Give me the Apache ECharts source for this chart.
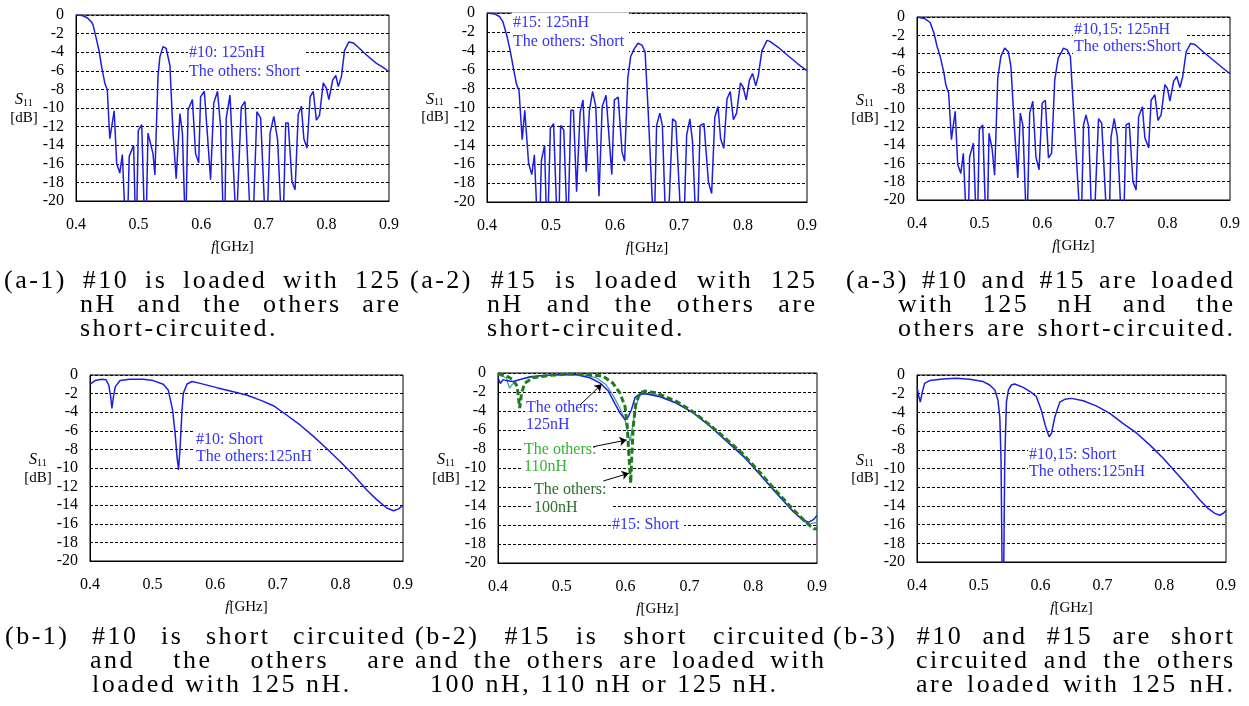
<!DOCTYPE html>
<html>
<head>
<meta charset="utf-8">
<script src="https://cdn.jsdelivr.net/npm/echarts@6/dist/echarts.min.js"></script>
<style>
html, body { margin: 0; padding: 0; background: #fff; }
#chart { width: 1249px; height: 706px; }
</style>
</head>
<body>
<div id="chart"></div>
<script>
// ---- data (f in GHz, S11 in dB) ----
// values below -20 dB run off the bottom of the axis and get clipped
var a1Freq = [0.400,0.410,0.418,0.424,0.427,0.433,0.437,0.441,0.446,0.450,0.454,0.461,0.465,0.470,0.474,0.481,0.485,0.492,0.496,0.4995,0.505,0.511,0.515,0.523,0.526,0.531,0.534,0.539,0.544,0.550,0.555,0.560,0.566,0.570,0.575,0.579,0.586,0.591,0.596,0.599,0.605,0.615,0.620,0.626,0.631,0.637,0.640,0.646,0.656,0.664,0.670,0.681,0.689,0.695,0.704,0.710,0.716,0.722,0.730,0.735,0.739,0.745,0.750,0.755,0.760,0.764,0.769,0.774,0.779,0.784,0.789,0.795,0.800,0.804,0.810,0.815,0.819,0.824,0.829,0.836,0.843,0.853,0.864,0.880,0.890,0.900];
var a1S11 = [0,-0.05,-0.3,-0.7,-1.0,-2.7,-3.9,-5.6,-7.3,-8.1,-13.3,-10.3,-16.0,-17.0,-15.0,-26,-15.2,-14.0,-25,-12.4,-11.8,-26,-12.7,-14.9,-17.2,-6.6,-4.5,-3.4,-3.6,-5.4,-12.7,-17.6,-10.6,-12.7,-24,-10.2,-9.1,-14.9,-15.9,-8.8,-8.2,-17.7,-9.5,-8.2,-12.0,-26,-11.1,-8.6,-23,-9.9,-9.3,-26,-10.4,-11.1,-25,-12.7,-10.9,-13.4,-25,-11.6,-11.6,-17.9,-18.8,-10.7,-9.8,-13.3,-14.3,-8.8,-8.2,-11.3,-10.8,-7.3,-7.9,-9.1,-7.0,-6.5,-7.7,-6.6,-3.8,-2.9,-3.0,-3.6,-4.3,-5.2,-5.6,-6.1];

var a2Freq = [0.400,0.412,0.420,0.425,0.431,0.436,0.442,0.446,0.450,0.455,0.459,0.465,0.470,0.474,0.481,0.485,0.490,0.494,0.499,0.504,0.5115,0.515,0.520,0.526,0.531,0.535,0.540,0.5455,0.550,0.555,0.560,0.565,0.570,0.575,0.580,0.586,0.595,0.599,0.605,0.611,0.615,0.620,0.6245,0.630,0.636,0.642,0.647,0.652,0.661,0.665,0.670,0.674,0.681,0.690,0.695,0.706,0.712,0.717,0.721,0.728,0.733,0.739,0.746,0.751,0.756,0.761,0.765,0.770,0.775,0.780,0.785,0.790,0.796,0.800,0.805,0.810,0.815,0.820,0.824,0.8295,0.8375,0.842,0.8545,0.870,0.886,0.900];
var a2S11 = [0,-0.1,-0.4,-0.95,-2.4,-3.9,-6.1,-7.5,-8.2,-13.4,-10.3,-15.9,-17.1,-15.0,-26,-15.6,-14.0,-25,-12.2,-11.7,-26,-11.9,-12.4,-24,-10.3,-10.3,-18.9,-10.5,-9.2,-16.8,-10.3,-8.3,-9.9,-19.4,-9.9,-8.7,-17.1,-9.2,-8.9,-14.7,-15.7,-6.9,-4.6,-3.8,-3.2,-3.4,-4.1,-10.6,-24,-11.9,-10.6,-11.9,-26,-11.2,-11.5,-26,-12.9,-11.2,-13.5,-25,-11.9,-11.7,-17.9,-19.1,-11.0,-9.9,-13.3,-14.3,-9.1,-8.3,-11.3,-10.6,-7.4,-7.8,-9.2,-7.1,-6.4,-7.7,-6.6,-4.0,-2.9,-3.0,-3.6,-4.5,-5.4,-6.1];

var a3Freq = [0.400,0.413,0.421,0.427,0.432,0.437,0.443,0.446,0.4505,0.455,0.461,0.465,0.470,0.474,0.481,0.484,0.490,0.496,0.4995,0.505,0.5115,0.515,0.520,0.524,0.529,0.534,0.540,0.546,0.550,0.556,0.561,0.565,0.569,0.5755,0.580,0.585,0.590,0.595,0.600,0.605,0.610,0.615,0.620,0.6255,0.634,0.640,0.645,0.650,0.662,0.666,0.670,0.674,0.681,0.690,0.695,0.706,0.710,0.715,0.720,0.729,0.734,0.739,0.745,0.750,0.754,0.760,0.764,0.770,0.774,0.780,0.785,0.790,0.796,0.800,0.804,0.810,0.815,0.820,0.8245,0.830,0.837,0.844,0.857,0.873,0.889,0.900];
var a3S11 = [0,-0.2,-0.6,-1.75,-3.2,-4.3,-6.1,-7.4,-8.3,-13.4,-10.3,-16.1,-17.1,-14.9,-26,-15.3,-13.8,-25,-12.3,-11.8,-26,-12.7,-14.4,-17.3,-6.7,-4.3,-3.4,-3.8,-5.4,-12.5,-17.6,-10.5,-11.8,-24,-10.5,-9.2,-15.3,-16.7,-9.4,-9.1,-15.4,-14.9,-6.9,-4.5,-3.4,-3.6,-4.3,-10.1,-24,-11.8,-10.7,-11.9,-26,-11.1,-11.6,-26,-13.1,-11.1,-13.1,-26,-11.8,-11.6,-18.0,-18.9,-10.9,-9.8,-13.2,-14.3,-9.1,-8.5,-11.3,-10.7,-7.4,-7.8,-9.2,-7.0,-6.5,-7.7,-6.5,-3.8,-2.9,-3.0,-3.8,-4.7,-5.6,-6.2];

var b1Freq = [0.400,0.408,0.419,0.4255,0.430,0.433,0.435,0.4375,0.4405,0.448,0.464,0.485,0.501,0.517,0.525,0.532,0.536,0.539,0.5415,0.544,0.547,0.549,0.555,0.563,0.576,0.6025,0.629,0.650,0.672,0.693,0.714,0.736,0.757,0.778,0.7995,0.821,0.8425,0.858,0.874,0.885,0.893,0.900];
var b1S11 = [-1.0,-0.6,-0.45,-0.5,-1.1,-2.3,-3.6,-2.3,-1.25,-0.6,-0.45,-0.45,-0.6,-1.0,-1.6,-3.8,-6.3,-8.8,-10.2,-7.7,-3.8,-2.0,-0.97,-0.7,-0.9,-1.36,-1.8,-2.15,-2.7,-3.3,-4.3,-5.4,-6.6,-7.9,-9.3,-10.75,-12.4,-13.4,-14.3,-14.6,-14.4,-14.0];

var b2Freq125 = [0.400,0.4037,0.408,0.413,0.4235,0.434,0.450,0.4707,0.497,0.523,0.544,0.560,0.573,0.583,0.591,0.599,0.603,0.609,0.6147,0.6225,0.633,0.654,0.680,0.706,0.7325,0.7586,0.785,0.811,0.837,0.863,0.879,0.887,0.895,0.900];
var b2S11_125 = [-0.5,-1.1,-0.7,-0.8,-0.9,-0.7,-0.4,-0.25,-0.18,-0.18,-0.5,-1.06,-1.9,-3.2,-4.2,-4.9,-4.75,-3.9,-2.6,-2.2,-2.2,-2.5,-3.2,-4.2,-5.6,-7.2,-8.8,-10.7,-12.7,-14.6,-15.5,-15.7,-15.4,-15.0];
var b2Freq110 = [0.400,0.413,0.418,0.4225,0.429,0.440,0.460,0.497,0.533,0.554,0.569,0.580,0.591,0.599,0.604,0.607,0.611,0.614,0.620,0.628,0.6487,0.680,0.706,0.7325,0.7586,0.785,0.811,0.837,0.863,0.879,0.887,0.895,0.900];
var b2S11_110 = [-0.2,-0.5,-1.6,-1.2,-0.8,-0.6,-0.35,-0.18,-0.18,-0.5,-1.2,-2.3,-3.7,-4.9,-6.5,-7.2,-5.6,-4.4,-2.5,-2.1,-2.3,-3.1,-4.2,-5.6,-7.1,-8.7,-10.7,-12.6,-14.6,-15.6,-15.9,-15.8,-15.7];
var b2Freq100 = [0.400,0.413,0.4235,0.430,0.434,0.437,0.442,0.455,0.481,0.5126,0.544,0.565,0.580,0.591,0.599,0.6026,0.605,0.608,0.6094,0.612,0.616,0.6225,0.630,0.6487,0.680,0.706,0.7325,0.7586,0.785,0.811,0.837,0.863,0.884,0.895,0.900];
var b2S11_100 = [-0.07,-0.3,-0.7,-1.4,-3.7,-2.1,-1.06,-0.5,-0.25,-0.1,-0.18,-0.35,-1.06,-2.1,-3.5,-5.6,-8.5,-11.6,-9.2,-5.6,-3.2,-2.1,-1.9,-2.1,-3.0,-4.1,-5.5,-7.0,-8.6,-10.5,-12.5,-14.4,-15.8,-16.4,-16.4];

var b3Freq = [0.400,0.403,0.4054,0.4086,0.4124,0.4205,0.442,0.4637,0.485,0.507,0.5177,0.526,0.531,0.534,0.536,0.539,0.542,0.5447,0.548,0.5528,0.558,0.5717,0.585,0.593,0.601,0.608,0.6138,0.6176,0.623,0.631,0.639,0.650,0.669,0.690,0.712,0.7337,0.755,0.777,0.7985,0.820,0.8417,0.858,0.8715,0.882,0.890,0.8955,0.900];
var b3S11 = [-1.25,-2.3,-2.9,-1.8,-0.9,-0.6,-0.43,-0.36,-0.46,-0.7,-1.07,-1.6,-2.7,-4.5,-9.1,-30,-9.1,-2.9,-1.6,-1.07,-0.96,-1.32,-1.86,-2.3,-3.75,-5.5,-6.6,-6.25,-4.5,-2.9,-2.6,-2.5,-2.75,-3.3,-4.1,-5.2,-6.2,-7.5,-8.9,-10.5,-12.1,-13.4,-14.3,-14.8,-15.0,-14.8,-14.5];

// arrows in (b-2): [tail, head] in data units
var b2Arrows = [
	[[0.5285, -3.37], [0.5625, -1.19]],
	[[0.5494, -7.76], [0.6015, -7.05]],
	[[0.5650, -11.37], [0.6050, -10.56]]
];

var xTicks = { min: 0.4, max: 0.9, step: 0.1 };
var yTicks = { min: -20, max: 0, step: 2 };

var captions = [
	['(a-1) #10 is loaded with 125', 4, 399, 281],
	['nH and the others are', 80, 399, 305],
	['short-circuited.', 80, null, 329],
	['(a-2) #15 is loaded with 125', 410, 815, 281],
	['nH and the others are', 487, 815, 305],
	['short-circuited.', 487, null, 329],
	['(a-3) #10 and #15 are loaded', 846, 1233, 281],
	['with 125 nH and the', 898, 1233, 305],
	['others are short-circuited.', 898, 1233, 329],
	['(b-1) #10 is short circuited', 5, 404, 637],
	['and the others are', 90, 404, 661],
	['loaded with 125 nH.', 92, null, 685],
	['(b-2) #15 is short circuited', 415, 824, 637],
	['and the others are loaded with', 415, 824, 661],
	['100 nH, 110 nH or 125 nH.', 430, null, 685],
	['(b-3) #10 and #15 are short', 833, 1233, 637],
	['circuited and the others', 916, 1233, 661],
	['are loaded with 125 nH.', 916, 1233, 685]
];

var SERIF = '"Liberation Serif", "Times New Roman", serif';
var BLUE = '#1e1ee0', TXT_BLUE = '#3434f4', GREEN = '#36b336', DKGREEN = '#2c6e2c', TEAL = '#3a9e9e';

function pair(f, s) {
	return f.map(function (x, i) { return [x, s[i]]; });
}

var panels = [
	{ grid: { left: 76, top: 15, width: 313, height: 186 },
	  series: [{ data: pair(a1Freq, a1S11), color: BLUE }],
	  notes: [{ text: '#10: 125nH\nThe others: Short', x: 188, y: 62.5, color: TXT_BLUE, lh: 19 }] },
	{ grid: { left: 487, top: 13, width: 320, height: 189 },
	  series: [{ data: pair(a2Freq, a2S11), color: BLUE }],
	  notes: [{ text: '#15: 125nH\nThe others: Short', x: 512, y: 32.5, color: TXT_BLUE, lh: 19 }] },
	{ grid: { left: 917, top: 17, width: 313, height: 183 },
	  series: [{ data: pair(a3Freq, a3S11), color: BLUE }],
	  notes: [{ text: '#10,15: 125nH\nThe others:Short', x: 1073, y: 38.5, color: TXT_BLUE, lh: 17 }] },
	{ grid: { left: 90, top: 375, width: 313, height: 186 },
	  series: [{ data: pair(b1Freq, b1S11), color: BLUE }],
	  notes: [{ text: '#10: Short\nThe others:125nH', x: 195, y: 448.5, color: TXT_BLUE, lh: 17 }] },
	{ grid: { left: 498, top: 373, width: 319, height: 190 },
	  series: [
		{ data: pair(b2Freq110, b2S11_110), color: TEAL, width: 1.2 },
		{ data: pair(b2Freq125, b2S11_125), color: BLUE, arrows: b2Arrows },
		{ data: pair(b2Freq100, b2S11_100), color: '#1f7a1f', width: 3, dash: [6, 3] }
	  ],
	  notes: [
		{ text: 'The others:\n125nH', x: 525, y: 416.5, color: TXT_BLUE, lh: 17 },
		{ text: 'The others:\n110nH', x: 523, y: 458.5, color: GREEN, lh: 17 },
		{ text: 'The others:\n100nH', x: 533, y: 499, color: DKGREEN, lh: 18 },
		{ text: '#15: Short', x: 611, y: 525, color: TXT_BLUE, lh: 17 }
	  ] },
	{ grid: { left: 917, top: 375, width: 309, height: 187 },
	  series: [{ data: pair(b3Freq, b3S11), color: BLUE }],
	  notes: [{ text: '#10,15: Short\nThe others:125nH', x: 1028, y: 463.5, color: TXT_BLUE, lh: 17 }] }
];

var grids = [], xAxes = [], yAxes = [], series = [], elements = [];

panels.forEach(function (p, i) {
	var g = p.grid;
	grids.push({ left: g.left, top: g.top, width: g.width, height: g.height,
		show: true, borderColor: '#000', borderWidth: 1, backgroundColor: '#fff' });
	xAxes.push({
		gridIndex: i, type: 'value', min: xTicks.min, max: xTicks.max, interval: xTicks.step,
		axisLine: { show: true, onZero: false, lineStyle: { color: '#000', width: 1 } },
		axisTick: { show: false }, splitLine: { show: false },
		axisLabel: { fontFamily: SERIF, fontSize: 16, color: '#000', margin: 16,
			formatter: function (v) { return v.toFixed(1); } },
		name: '{i|f}[GHz]', nameLocation: 'middle', nameGap: 39,
		nameTextStyle: { fontFamily: SERIF, fontSize: 15, color: '#000',
			rich: { i: { fontFamily: SERIF, fontSize: 15, fontStyle: 'italic', color: '#000' } } }
	});
	yAxes.push({
		gridIndex: i, type: 'value', min: yTicks.min, max: yTicks.max, interval: yTicks.step,
		axisLine: { show: true, lineStyle: { color: '#000', width: 1 } },
		axisTick: { show: false },
		splitLine: { show: true, lineStyle: { color: '#000', width: 1, type: [3, 2] } },
		axisLabel: { fontFamily: SERIF, fontSize: 16, color: '#000', margin: 12 }
	});
	p.series.forEach(function (s) {
		var ser = {
			type: 'line', xAxisIndex: i, yAxisIndex: i, data: s.data,
			showSymbol: false, symbol: 'none', clip: true, z: 3,
			lineStyle: { color: s.color, width: s.width || 1.5, type: s.dash || 'solid' }
		};
		if (s.arrows) {
			ser.markLine = {
				silent: true, symbol: ['none', 'arrow'], symbolSize: 7,
				lineStyle: { color: '#000', width: 1, type: 'solid' },
				label: { show: false },
				data: s.arrows.map(function (a) { return [{ coord: a[0] }, { coord: a[1] }]; })
			};
		}
		series.push(ser);
	});
	// y axis name: italic S with subscript 11, and [dB]
	var mid = g.top + g.height / 2;
	elements.push({ type: 'text', z: 1, x: g.left - 61, y: mid - 8,
		style: { text: 'S', fontFamily: SERIF, fontSize: 16, fontStyle: 'italic', fill: '#000', verticalAlign: 'middle' } });
	elements.push({ type: 'text', z: 1, x: g.left - 53, y: mid - 5,
		style: { text: '11', fontFamily: SERIF, fontSize: 10, fill: '#000', verticalAlign: 'middle' } });
	elements.push({ type: 'text', z: 1, x: g.left - 52, y: mid + 10,
		style: { text: '[dB]', fontFamily: SERIF, fontSize: 15, fill: '#000', align: 'center', verticalAlign: 'middle' } });
	p.notes.forEach(function (n) {
		elements.push({ type: 'text', z: 1, x: n.x, y: n.y,
			style: { text: n.text, fontFamily: SERIF, fontSize: 16, lineHeight: n.lh, fill: n.color,
				verticalAlign: 'middle', backgroundColor: '#fff', padding: [1, 5, 1, 1] } });
	});
});

// captions: letter-spaced serif, justified lines spread over their width
var CAP_SIZE = 26, CAP_LS = 2.5;
var ctx = document.createElement('canvas').getContext('2d');
ctx.font = CAP_SIZE + 'px "Liberation Serif"';
captions.forEach(function (c) {
	var chars = c[0].split('');
	var w = chars.map(function (ch) { return ctx.measureText(ch).width; });
	var natural = w.reduce(function (a, b) { return a + b; }, 0) + CAP_LS * (chars.length - 1);
	var spaces = chars.filter(function (ch) { return ch === ' '; }).length;
	var extra = (c[2] && spaces) ? Math.max(0, (c[2] - c[1] - natural) / spaces) : 0;
	var x = c[1];
	chars.forEach(function (ch, i) {
		if (ch !== ' ') {
			elements.push({ type: 'text', z: 1, x: x, y: c[3],
				style: { text: ch, fontFamily: SERIF, fontSize: CAP_SIZE, fill: '#000', verticalAlign: 'middle' } });
		}
		x += w[i] + CAP_LS + (ch === ' ' ? extra : 0);
	});
});

var myChart = echarts.init(document.getElementById('chart'));
myChart.setOption({
	animation: false,
	backgroundColor: '#fff',
	grid: grids,
	xAxis: xAxes,
	yAxis: yAxes,
	series: series,
	graphic: { elements: elements }
});
</script>
</body>
</html>
